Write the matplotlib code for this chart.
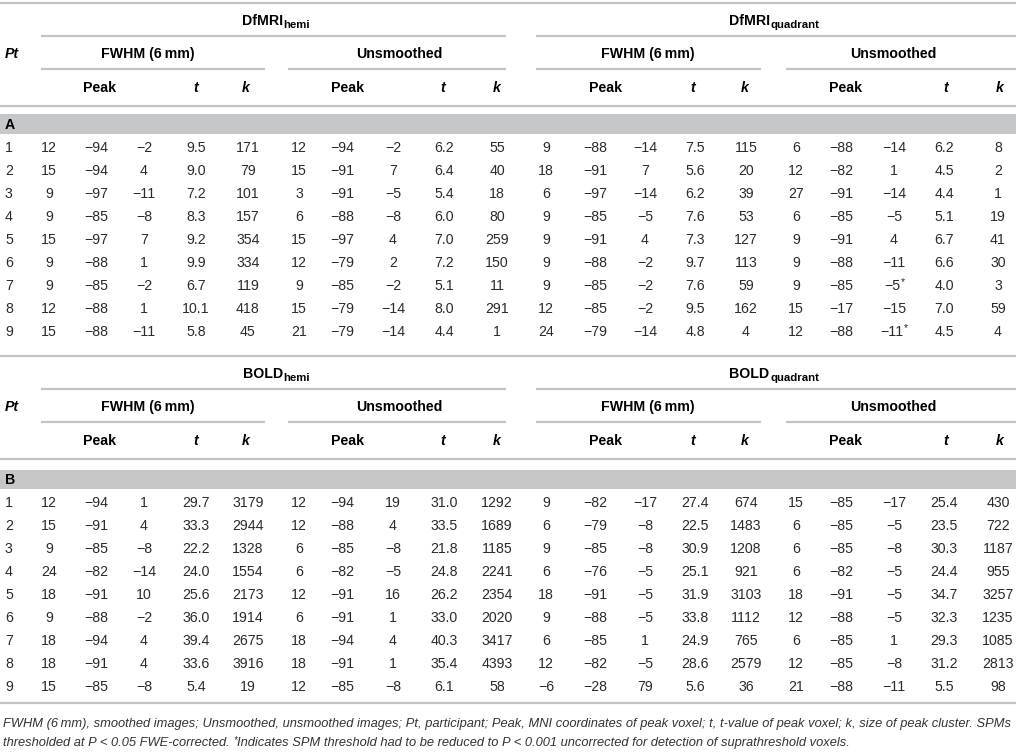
import matplotlib
matplotlib.use("Agg")
import matplotlib.pyplot as plt
from matplotlib import font_manager

# ---------------- DATA ----------------
participants = [1, 2, 3, 4, 5, 6, 7, 8, 9]

# Section A: DfMRI
dfmri_hemi_fwhm_peak = [(12, -94, -2), (15, -94, 4), (9, -97, -11), (9, -85, -8), (15, -97, 7),
                        (9, -88, 1), (9, -85, -2), (12, -88, 1), (15, -88, -11)]
dfmri_hemi_fwhm_t = [9.5, 9.0, 7.2, 8.3, 9.2, 9.9, 6.7, 10.1, 5.8]
dfmri_hemi_fwhm_k = [171, 79, 101, 157, 354, 334, 119, 418, 45]

dfmri_hemi_unsm_peak = [(12, -94, -2), (15, -91, 7), (3, -91, -5), (6, -88, -8), (15, -97, 4),
                        (12, -79, 2), (9, -85, -2), (15, -79, -14), (21, -79, -14)]
dfmri_hemi_unsm_t = [6.2, 6.4, 5.4, 6.0, 7.0, 7.2, 5.1, 8.0, 4.4]
dfmri_hemi_unsm_k = [55, 40, 18, 80, 259, 150, 11, 291, 1]

dfmri_quad_fwhm_peak = [(9, -88, -14), (18, -91, 7), (6, -97, -14), (9, -85, -5), (9, -91, 4),
                        (9, -88, -2), (9, -85, -2), (12, -85, -2), (24, -79, -14)]
dfmri_quad_fwhm_t = [7.5, 5.6, 6.2, 7.6, 7.3, 9.7, 7.6, 9.5, 4.8]
dfmri_quad_fwhm_k = [115, 20, 39, 53, 127, 113, 59, 162, 4]

dfmri_quad_unsm_peak = [(6, -88, -14), (12, -82, 1), (27, -91, -14), (6, -85, -5), (9, -91, 4),
                        (9, -88, -11), (9, -85, -5), (15, -17, -15), (12, -88, -11)]
dfmri_quad_unsm_t = [6.2, 4.5, 4.4, 5.1, 6.7, 6.6, 4.0, 7.0, 4.5]
dfmri_quad_unsm_k = [8, 2, 1, 19, 41, 30, 3, 59, 4]
dfmri_quad_unsm_starred = [7, 9]   # participants whose z-coordinate carries *

# Section B: BOLD
bold_hemi_fwhm_peak = [(12, -94, 1), (15, -91, 4), (9, -85, -8), (24, -82, -14), (18, -91, 10),
                       (9, -88, -2), (18, -94, 4), (18, -91, 4), (15, -85, -8)]
bold_hemi_fwhm_t = [29.7, 33.3, 22.2, 24.0, 25.6, 36.0, 39.4, 33.6, 5.4]
bold_hemi_fwhm_k = [3179, 2944, 1328, 1554, 2173, 1914, 2675, 3916, 19]

bold_hemi_unsm_peak = [(12, -94, 19), (12, -88, 4), (6, -85, -8), (6, -82, -5), (12, -91, 16),
                       (6, -91, 1), (18, -94, 4), (18, -91, 1), (12, -85, -8)]
bold_hemi_unsm_t = [31.0, 33.5, 21.8, 24.8, 26.2, 33.0, 40.3, 35.4, 6.1]
bold_hemi_unsm_k = [1292, 1689, 1185, 2241, 2354, 2020, 3417, 4393, 58]

bold_quad_fwhm_peak = [(9, -82, -17), (6, -79, -8), (9, -85, -8), (6, -76, -5), (18, -91, -5),
                       (9, -88, -5), (6, -85, 1), (12, -82, -5), (-6, -28, 79)]
bold_quad_fwhm_t = [27.4, 22.5, 30.9, 25.1, 31.9, 33.8, 24.9, 28.6, 5.6]
bold_quad_fwhm_k = [674, 1483, 1208, 921, 3103, 1112, 765, 2579, 36]

bold_quad_unsm_peak = [(15, -85, -17), (6, -85, -5), (6, -85, -8), (6, -82, -5), (18, -91, -5),
                       (12, -88, -5), (6, -85, 1), (12, -85, -8), (21, -88, -11)]
bold_quad_unsm_t = [25.4, 23.5, 30.3, 24.4, 34.7, 32.3, 29.3, 31.2, 5.5]
bold_quad_unsm_k = [430, 722, 1187, 955, 3257, 1235, 1085, 2813, 98]

group_titles_A = ["DfMRI", "DfMRI"]
group_titles_B = ["BOLD", "BOLD"]
group_subs = ["hemi", "quadrant"]
smoothing_labels = ["FWHM (6\u2009mm)", "Unsmoothed"]
section_labels = ["A", "B"]

footnote_1 = ("FWHM (6\u2009mm), smoothed images; Unsmoothed, unsmoothed images; Pt, participant; "
              "Peak, MNI coordinates of peak voxel; t, t-value of peak voxel; k, size of peak cluster. SPMs")
footnote_2a = "thresholded at P < 0.05 FWE-corrected. "
footnote_2b = "Indicates SPM threshold had to be reduced to P < 0.001 uncorrected for detection of suprathreshold voxels."

# ---------------- STYLE ----------------
plt.rcParams['font.family'] = ['Liberation Sans', 'DejaVu Sans']

W, H = 1016, 753
fig = plt.figure(figsize=(W / 100, H / 100), dpi=100)
ax = fig.add_axes([0, 0, 1, 1])
ax.set_xlim(0, W)
ax.set_ylim(H, 0)
ax.axis('off')
renderer = fig.canvas.get_renderer()

TXT = '#2a2a2a'
LINE = '#c4c4c4'
BAND = '#c6c7c9'
FS = 10.2
LW = 1.6

col_x = [49, 96, 144, 196, 248, 299, 342, 393, 444, 497,
         546, 595, 645, 695, 746, 796, 841, 894, 944, 998]


def fmt_int(v):
    return str(v) if v >= 0 else '\u2212' + str(-v)


def px_width(t):
    bb = t.get_window_extent(renderer)
    return bb.width


def hline(y, x0=0, x1=W):
    ax.plot([x0, x1], [y, y], color=LINE, lw=LW, solid_capstyle='butt')


def title_with_sub(cx, y, main, sub):
    t1 = ax.text(0, y, main, ha='left', va='center', fontsize=FS, fontweight='bold', color='black')
    t2 = ax.text(0, y + 4, sub, ha='left', va='center', fontsize=FS * 0.8, fontweight='bold', color='black')
    w1, w2 = px_width(t1), px_width(t2)
    x0 = cx - (w1 + w2) / 2
    t1.set_x(x0)
    t2.set_x(x0 + w1 + 0.5)


def header(y0, titles):
    hline(y0)
    title_y = y0 + 18
    for i, (t, s) in enumerate(zip(titles, group_subs)):
        title_with_sub([276, 774][i], title_y, t, s)
    hline(y0 + 33, 41, 506)
    hline(y0 + 33, 536, W)
    sub_y = y0 + 51
    ax.text(5, sub_y, 'Pt', ha='left', va='center', fontsize=FS, fontweight='bold',
            fontstyle='italic', color='black')
    for cx, lab in zip([148, 399, 648, 893], smoothing_labels * 2):
        ax.text(cx, sub_y, lab, ha='center', va='center', fontsize=FS, fontweight='bold', color='black')
    for a, b in [(41, 265), (288, 506), (536, 761), (786, W)]:
        hline(y0 + 66, a, b)
    lab_y = y0 + 85
    for px, tx, kx in [(99, 196, 246), (347, 443, 497), (605, 693, 745), (846, 946, 1000)]:
        ax.text(px, lab_y, 'Peak', ha='center', va='center', fontsize=FS, fontweight='bold', color='black')
        ax.text(tx, lab_y, 't', ha='center', va='center', fontsize=FS, fontweight='bold',
                fontstyle='italic', color='black')
        ax.text(kx, lab_y, 'k', ha='center', va='center', fontsize=FS, fontweight='bold',
                fontstyle='italic', color='black')
    hline(y0 + 103)


def band(y_top, y_bot, label):
    ax.fill_between([0, W], [y_top, y_top], [y_bot, y_bot], color=BAND, lw=0)
    ax.text(5, (y_top + y_bot) / 2 + 0.5, label, ha='left', va='center', fontsize=FS,
            fontweight='bold', color='black')


def rows(y_first, groups, starred=None):
    starred = starred or {}
    for r, p in enumerate(participants):
        y = y_first + 23 * r
        ax.text(5, y, str(p), ha='left', va='center', fontsize=FS, color=TXT)
        c = 0
        for g, (peak, tv, kv) in enumerate(groups):
            x_, y_, z_ = peak[r]
            vals = [fmt_int(x_), fmt_int(y_), fmt_int(z_), f"{tv[r]:.1f}", fmt_int(kv[r])]
            for j, v in enumerate(vals):
                if j == 2 and p in starred.get(g, []):
                    t = ax.text(col_x[c] - 2, y, v, ha='center', va='center', fontsize=FS, color=TXT)
                    bb = t.get_window_extent(renderer)
                    xr = ax.transData.inverted().transform((bb.x1, 0))[0]
                    ax.text(xr + 0.5, y - 3.5, '*', ha='left', va='center', fontsize=FS * 0.75, color=TXT)
                else:
                    ax.text(col_x[c], y, v, ha='center', va='center', fontsize=FS, color=TXT)
                c += 1


# Section A
header(2.5, group_titles_A)
band(114, 134, section_labels[0])
rows(148, [(dfmri_hemi_fwhm_peak, dfmri_hemi_fwhm_t, dfmri_hemi_fwhm_k),
           (dfmri_hemi_unsm_peak, dfmri_hemi_unsm_t, dfmri_hemi_unsm_k),
           (dfmri_quad_fwhm_peak, dfmri_quad_fwhm_t, dfmri_quad_fwhm_k),
           (dfmri_quad_unsm_peak, dfmri_quad_unsm_t, dfmri_quad_unsm_k)],
     starred={3: dfmri_quad_unsm_starred})

# Section B
header(356, group_titles_B)
band(470, 489, section_labels[1])
rows(503, [(bold_hemi_fwhm_peak, bold_hemi_fwhm_t, bold_hemi_fwhm_k),
           (bold_hemi_unsm_peak, bold_hemi_unsm_t, bold_hemi_unsm_k),
           (bold_quad_fwhm_peak, bold_quad_fwhm_t, bold_quad_fwhm_k),
           (bold_quad_unsm_peak, bold_quad_unsm_t, bold_quad_unsm_k)])

hline(703)

# Footnote
try:
    font_manager.findfont(font_manager.FontProperties(family='Liberation Sans Narrow'),
                          fallback_to_default=False)
    narrow = 'Liberation Sans Narrow'
except Exception:
    narrow = 'Liberation Sans'

FN_COL = '#333333'
fs_fn = 9.0
probe = ax.text(3, 724, footnote_1, ha='left', va='center', fontsize=fs_fn, fontstyle='italic',
                family=narrow, color=FN_COL)
w = px_width(probe)
fs_fn = max(6.5, min(10.0, fs_fn * 1008.0 / w))
probe.set_fontsize(fs_fn)

t2 = ax.text(3, 743, footnote_2a, ha='left', va='center', fontsize=fs_fn, fontstyle='italic',
             family=narrow, color=FN_COL)
bb = t2.get_window_extent(renderer)
x_next = ax.transData.inverted().transform((bb.x1, 0))[0]
star = ax.text(x_next, 740, '*', ha='left', va='center', fontsize=fs_fn * 0.75, fontstyle='italic',
               family=narrow, color=FN_COL)
bb2 = star.get_window_extent(renderer)
x_next2 = ax.transData.inverted().transform((bb2.x1, 0))[0]
ax.text(x_next2, 743, footnote_2b, ha='left', va='center', fontsize=fs_fn, fontstyle='italic',
        family=narrow, color=FN_COL)

fig.savefig('out.png', dpi=100)
